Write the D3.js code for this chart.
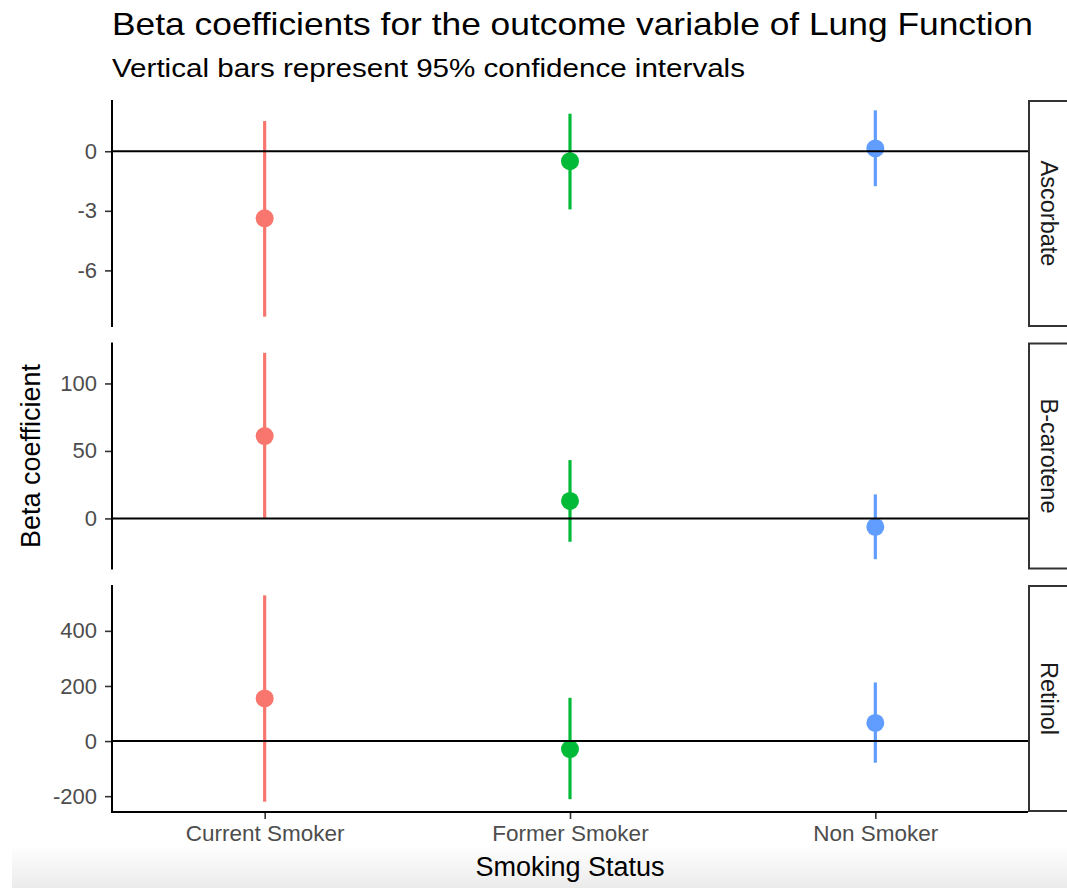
<!DOCTYPE html>
<html>
<head>
<meta charset="utf-8">
<script src="https://cdn.jsdelivr.net/npm/d3@7"></script>
<style>
  body { margin: 0; background: #fff; }
  svg { display: block; font-family: "Liberation Sans", Arial, sans-serif; }
</style>
</head>
<body>
<div id="chart"></div>
<script>
// smoking status categories (x axis) and facets (rows)
const smokingStatus = ['Current Smoker', 'Former Smoker', 'Non Smoker'];
const outcomes = ['Ascorbate', 'B-carotene', 'Retinol'];
const statusColors = ['#F8766D', '#00BA38', '#619CFF'];

// beta coefficients with 95% CI, one array per facet
const ascorbateBeta = [-3.38, -0.5, 0.14];
const ascorbateLow = [-8.33, -2.93, -1.76];
const ascorbateHigh = [1.52, 1.89, 2.06];

const caroteneBeta = [61, 13, -6.2];
const caroteneLow = [0, -17.3, -30.2];
const caroteneHigh = [122.7, 43.2, 17.8];

const retinolBeta = [154.7, -29, 66];
const retinolLow = [-220, -211, -78.6];
const retinolHigh = [529, 157, 212.7];

const ascorbateTicks = [-6, -3, 0];
const caroteneTicks = [0, 50, 100];
const retinolTicks = [-200, 0, 200, 400];

const facets = [
    { name: outcomes[0], beta: ascorbateBeta, low: ascorbateLow, high: ascorbateHigh, ticks: ascorbateTicks },
    { name: outcomes[1], beta: caroteneBeta, low: caroteneLow, high: caroteneHigh, ticks: caroteneTicks },
    { name: outcomes[2], beta: retinolBeta, low: retinolLow, high: retinolHigh, ticks: retinolTicks }
];

const W = 1067, H = 888;
const PANEL_LEFT = 112, PANEL_RIGHT = 1028;
const PANEL_TOP = 100, PANEL_H = 227, PANEL_GAP = 15.5;
const STRIP_W = 60;

const svg = d3.select('#chart')
    .append('svg')
    .attr('width', W)
    .attr('height', H);

/** faint screenshot shade at the bottom */
const grad = svg.append('defs').append('linearGradient')
    .attr('id', 'shade').attr('x1', 0).attr('y1', 0).attr('x2', 0).attr('y2', 1);
grad.append('stop').attr('offset', '0%').attr('stop-color', '#ffffff');
grad.append('stop').attr('offset', '100%').attr('stop-color', '#ebebeb');
svg.append('rect')
    .attr('x', 12).attr('y', 845)
    .attr('width', W - 12).attr('height', H - 845)
    .attr('fill', 'url(#shade)');

const xScale = d3.scalePoint()
    .domain(smokingStatus)
    .range([PANEL_LEFT, PANEL_RIGHT])
    .padding(0.5);

facets.forEach((f, k) => {
    const top = PANEL_TOP + k * (PANEL_H + PANEL_GAP);
    const bottom = top + PANEL_H;

    // ggplot style 5% expansion of the data range
    const lo = d3.min(f.low), hi = d3.max(f.high);
    const pad = (hi - lo) * 0.05;
    const yScale = d3.scaleLinear().domain([lo - pad, hi + pad]).range([bottom, top]);

    const g = svg.append('g');

    /** error bars */
    g.selectAll('line.ci')
        .data(smokingStatus)
        .enter()
        .append('line')
        .attr('class', 'ci')
        .attr('x1', d => xScale(d))
        .attr('x2', d => xScale(d))
        .attr('y1', (d, i) => yScale(f.low[i]))
        .attr('y2', (d, i) => yScale(f.high[i]))
        .style('stroke', (d, i) => statusColors[i])
        .style('stroke-width', 3.2);

    /** point estimates */
    g.selectAll('circle')
        .data(smokingStatus)
        .enter()
        .append('circle')
        .attr('cx', d => xScale(d))
        .attr('cy', (d, i) => yScale(f.beta[i]))
        .attr('r', 9)
        .style('fill', (d, i) => statusColors[i]);

    /** zero reference line on top */
    g.append('line')
        .attr('x1', PANEL_LEFT).attr('x2', PANEL_RIGHT)
        .attr('y1', yScale(0)).attr('y2', yScale(0))
        .style('stroke', '#000').style('stroke-width', 2);

    /** y axis */
    const yAxis = g.append('g')
        .attr('transform', `translate(${PANEL_LEFT},0)`)
        .call(d3.axisLeft(yScale).tickValues(f.ticks).tickSize(7).tickPadding(8).tickFormat(d3.format('d')));
    yAxis.select('.domain').remove();
    yAxis.selectAll('.tick line').style('stroke', '#333').style('stroke-width', 1.6);
    yAxis.selectAll('.tick text')
        .style('font-size', '22px')
        .style('fill', '#4d4d4d')
        .style('font-family', '"Liberation Sans", Arial, sans-serif')
        .text(d => d < 0 ? '-' + Math.abs(d) : d);

    g.append('line')
        .attr('x1', PANEL_LEFT).attr('x2', PANEL_LEFT)
        .attr('y1', top).attr('y2', bottom)
        .style('stroke', '#000').style('stroke-width', 2);

    /** facet strip on the right */
    g.append('rect')
        .attr('x', PANEL_RIGHT + 1).attr('y', top + 1)
        .attr('width', STRIP_W).attr('height', PANEL_H - 2)
        .style('fill', '#fff')
        .style('stroke', '#333')
        .style('stroke-width', 2);

    g.append('text')
        .attr('transform', `translate(1041,${(top + bottom) / 2}) rotate(90)`)
        .attr('text-anchor', 'middle')
        .style('font-size', '23.5px')
        .style('fill', '#1a1a1a')
        .text(f.name);

    /** x axis only under the last panel */
    if (k === facets.length - 1) {
        const xAxis = g.append('g')
            .attr('transform', `translate(0,${bottom})`)
            .call(d3.axisBottom(xScale).tickSize(7).tickPadding(6));
        xAxis.select('.domain').remove();
        xAxis.selectAll('.tick line').style('stroke', '#333').style('stroke-width', 1.6);
        xAxis.selectAll('.tick text')
            .style('font-size', '22.5px')
            .style('fill', '#4d4d4d')
            .style('font-family', '"Liberation Sans", Arial, sans-serif');

        g.append('line')
            .attr('x1', PANEL_LEFT - 1).attr('x2', PANEL_RIGHT)
            .attr('y1', bottom).attr('y2', bottom)
            .style('stroke', '#000').style('stroke-width', 2);
    }
});

/** titles */
svg.append('text')
    .attr('x', 112).attr('y', 35)
    .attr('textLength', 921).attr('lengthAdjust', 'spacingAndGlyphs')
    .style('font-size', '32px')
    .style('fill', '#000')
    .text('Beta coefficients for the outcome variable of Lung Function');

svg.append('text')
    .attr('x', 112).attr('y', 77)
    .attr('textLength', 633).attr('lengthAdjust', 'spacingAndGlyphs')
    .style('font-size', '26.5px')
    .style('fill', '#000')
    .text('Vertical bars represent 95% confidence intervals');

svg.append('text')
    .attr('x', (PANEL_LEFT + PANEL_RIGHT) / 2).attr('y', 876)
    .attr('text-anchor', 'middle')
    .style('font-size', '27px')
    .style('fill', '#000')
    .text('Smoking Status');

svg.append('text')
    .attr('transform', `translate(40,${PANEL_TOP + (3 * PANEL_H + 2 * PANEL_GAP) / 2}) rotate(-90)`)
    .attr('text-anchor', 'middle')
    .style('font-size', '27px')
    .style('fill', '#000')
    .text('Beta coefficient');
</script>
</body>
</html>
